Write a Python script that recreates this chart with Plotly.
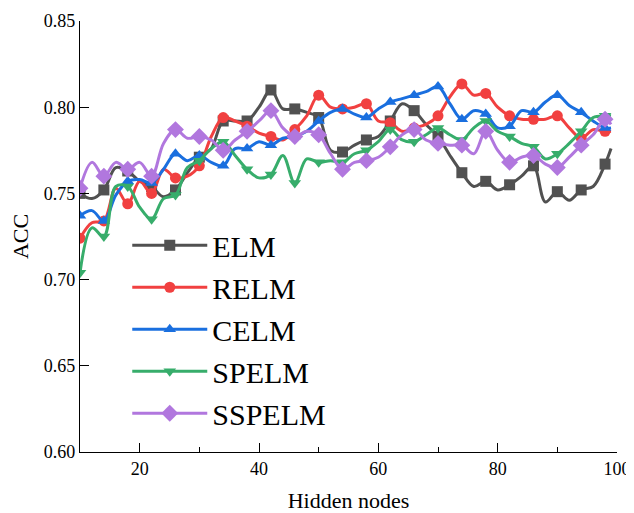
import plotly.graph_objects as go

x_nodes = list(range(10, 99, 2)) + [99]

elm = [0.750, 0.747, 0.752, 0.765, 0.763, 0.757, 0.754, 0.748, 0.752, 0.762,
       0.771, 0.776, 0.792, 0.792, 0.792, 0.800, 0.810, 0.799, 0.799, 0.797,
       0.794, 0.775, 0.774, 0.778, 0.781, 0.783, 0.792, 0.802, 0.798, 0.790,
       0.783, 0.772, 0.762, 0.754, 0.757, 0.752, 0.755, 0.760, 0.766, 0.745,
       0.751, 0.746, 0.752, 0.754, 0.767, 0.776]
relm = [0.724, 0.733, 0.734, 0.753, 0.744, 0.757, 0.750, 0.764, 0.759, 0.760,
        0.766, 0.783, 0.794, 0.792, 0.789, 0.785, 0.783, 0.781, 0.787, 0.795,
        0.807, 0.800, 0.799, 0.800, 0.802, 0.792, 0.791, 0.786, 0.788, 0.790,
        0.795, 0.806, 0.8135, 0.807, 0.808, 0.800, 0.795, 0.793, 0.793, 0.793,
        0.795, 0.788, 0.782, 0.787, 0.786, 0.786]
celm = [0.737, 0.740, 0.734, 0.749, 0.757, 0.758, 0.756, 0.764, 0.773, 0.769,
        0.772, 0.768, 0.766, 0.776, 0.776, 0.780, 0.778, 0.782, 0.783, 0.786,
        0.792, 0.797, 0.799, 0.796, 0.794, 0.799, 0.803, 0.805, 0.807, 0.809,
        0.812, 0.802, 0.793, 0.798, 0.796, 0.788, 0.789, 0.798, 0.797, 0.803,
        0.807, 0.801, 0.797, 0.792, 0.788, 0.788]
spelm = [0.704, 0.730, 0.725, 0.754, 0.754, 0.742, 0.735, 0.747, 0.749, 0.765,
         0.769, 0.776, 0.780, 0.772, 0.764, 0.759, 0.761, 0.772, 0.756, 0.770,
         0.768, 0.769, 0.768, 0.773, 0.775, 0.780, 0.787, 0.781, 0.780, 0.784,
         0.788, 0.784, 0.781, 0.788, 0.792, 0.786, 0.783, 0.779, 0.777, 0.770,
         0.773, 0.779, 0.786, 0.794, 0.795, 0.795]
sspelm = [0.753, 0.768, 0.760, 0.768, 0.764, 0.768, 0.760, 0.779, 0.787, 0.782,
          0.783, 0.781, 0.775, 0.781, 0.786, 0.792, 0.798, 0.788, 0.783, 0.786,
          0.784, 0.773, 0.764, 0.768, 0.769, 0.771, 0.777, 0.784, 0.787, 0.781,
          0.779, 0.778, 0.778, 0.773, 0.786, 0.775, 0.768, 0.771, 0.772, 0.767,
          0.765, 0.771, 0.778, 0.784, 0.793, 0.790]

series_names = ["ELM", "RELM", "CELM", "SPELM", "SSPELM"]
series_vals = [elm, relm, celm, spelm, sspelm]
colors = ["#515151", "#F14040", "#1A6FDF", "#37AD6B", "#B177DE"]
symbols = ["square", "circle", "triangle-up", "triangle-down", "diamond"]
marker_step_nodes = 4

FONT = "Liberation Serif"

fig = go.Figure()
for name, vals, col, sym in zip(series_names, series_vals, colors, symbols):
    msize = 13 if sym == "diamond" else 11
    fig.add_trace(go.Scatter(
        x=x_nodes, y=vals, mode="lines",
        line=dict(color=col, width=3, shape="spline", smoothing=1.0),
        showlegend=False, legendgroup=name, hoverinfo="skip"))
    mx = [xv for xv in x_nodes if (xv - 10) % marker_step_nodes == 0]
    my = [v for xv, v in zip(x_nodes, vals) if (xv - 10) % marker_step_nodes == 0]
    fig.add_trace(go.Scatter(
        x=mx, y=my, mode="markers",
        marker=dict(color=col, size=msize, symbol=sym),
        showlegend=False, legendgroup=name))
    fig.add_trace(go.Scatter(
        x=[None], y=[None], mode="lines+markers", name=name,
        line=dict(color=col, width=3),
        marker=dict(color=col, size=msize, symbol=sym),
        legendgroup=name))

# page body has an 8px default margin, so the figure is sized to fit the window
fig.update_layout(
    width=626, height=505,
    margin=dict(l=72, r=17, t=13, b=61),
    paper_bgcolor="white", plot_bgcolor="white",
    font=dict(family=FONT, color="black", size=18),
    showlegend=True,
    legend=dict(x=0.088, y=0.54, xanchor="left", yanchor="top",
                bgcolor="rgba(0,0,0,0)", borderwidth=0,
                font=dict(family=FONT, size=30, color="black"),
                itemwidth=75, tracegroupgap=0),
)
fig.update_xaxes(
    range=[10, 100], tickmode="array", tickvals=[20, 40, 60, 80, 100],
    ticks="inside", ticklen=9, tickwidth=1.3, tickcolor="black",
    minor=dict(tickmode="array", tickvals=[30, 50, 70, 90], ticks="inside",
               ticklen=5, tickwidth=1.3, tickcolor="black"),
    showline=True, linecolor="black", linewidth=1.3, showgrid=False, zeroline=False,
    automargin=False,
    tickfont=dict(family=FONT, size=18),
    title=dict(text="Hidden nodes", font=dict(family=FONT, size=22), standoff=14),
)
fig.update_yaxes(
    range=[0.60, 0.85], dtick=0.05, tick0=0.60, tickformat=".2f",
    ticks="inside", ticklen=9, tickwidth=1.3, tickcolor="black",
    showline=True, linecolor="black", linewidth=1.3, showgrid=False, zeroline=False,
    automargin=False,
    tickfont=dict(family=FONT, size=18),
    title=dict(text="ACC", font=dict(family=FONT, size=22), standoff=11),
)

fig.write_html("out.html")
